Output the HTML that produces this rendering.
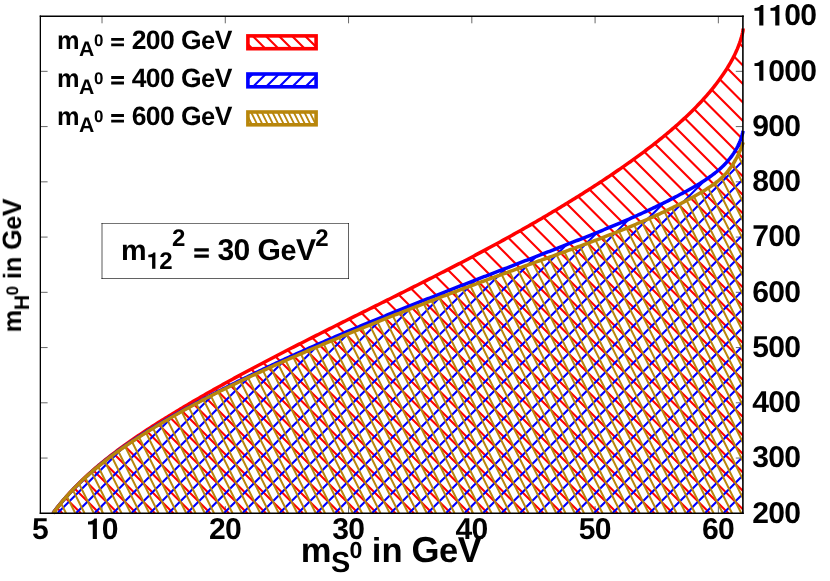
<!DOCTYPE html>
<html><head><meta charset="utf-8"><title>chart</title>
<style>html,body{margin:0;padding:0;background:#fff}svg{display:block}</style>
</head><body>
<svg width="830" height="581" viewBox="0 0 830 581">
<rect width="830" height="581" fill="#fff"/>
<defs>
<clipPath id="cr"><path d="M53.00,513.30 L54.20,511.51 L55.51,509.78 L56.84,508.07 L58.18,506.37 L59.54,504.69 L60.91,503.02 L62.29,501.36 L63.68,499.72 L65.09,498.09 L66.51,496.47 L67.94,494.86 L69.38,493.27 L70.84,491.69 L72.30,490.12 L73.78,488.56 L75.27,487.01 L76.77,485.48 L78.29,483.96 L79.81,482.45 L81.34,480.95 L82.89,479.46 L84.44,477.98 L86.00,476.51 L87.58,475.06 L89.16,473.61 L90.76,472.18 L92.36,470.75 L93.97,469.34 L95.59,467.93 L97.22,466.54 L98.86,465.15 L100.50,463.77 L102.16,462.41 L103.82,461.05 L105.49,459.70 L107.17,458.36 L108.85,457.02 L110.55,455.70 L112.25,454.39 L113.95,453.08 L115.67,451.78 L117.39,450.49 L119.11,449.20 L120.85,447.93 L122.59,446.66 L124.33,445.40 L126.08,444.14 L127.84,442.90 L129.60,441.65 L131.36,440.42 L133.13,439.19 L134.91,437.97 L136.69,436.76 L138.47,435.55 L140.26,434.34 L142.06,433.14 L143.85,431.95 L145.65,430.77 L147.46,429.58 L149.26,428.41 L151.07,427.23 L152.88,426.07 L154.70,424.91 L156.52,423.75 L158.34,422.59 L160.16,421.44 L161.98,420.30 L163.81,419.16 L165.64,418.02 L167.47,416.88 L169.30,415.75 L171.13,414.63 L172.97,413.51 L174.81,412.39 L176.65,411.27 L178.49,410.16 L180.33,409.05 L182.18,407.94 L184.02,406.84 L185.87,405.74 L187.72,404.65 L189.57,403.56 L191.42,402.47 L193.28,401.38 L195.14,400.30 L196.99,399.22 L198.85,398.14 L200.71,397.06 L202.58,395.99 L204.44,394.92 L206.31,393.86 L208.17,392.79 L210.04,391.73 L211.91,390.67 L213.78,389.62 L215.65,388.56 L217.53,387.51 L219.40,386.46 L221.28,385.42 L223.16,384.37 L225.04,383.33 L226.92,382.29 L228.80,381.25 L230.68,380.22 L232.56,379.19 L234.45,378.16 L236.34,377.13 L238.22,376.10 L240.11,375.08 L242.00,374.05 L243.89,373.03 L245.78,372.01 L247.68,371.00 L249.57,369.98 L251.47,368.97 L253.36,367.96 L255.26,366.95 L257.16,365.94 L259.06,364.94 L260.96,363.93 L262.86,362.93 L264.76,361.93 L266.66,360.93 L268.57,359.93 L270.47,358.94 L272.38,357.94 L274.29,356.95 L276.19,355.96 L278.10,354.97 L280.01,353.98 L281.92,352.99 L283.83,352.01 L285.74,351.02 L287.65,350.04 L289.57,349.06 L291.48,348.07 L293.39,347.09 L295.31,346.12 L297.22,345.14 L299.14,344.16 L301.06,343.19 L302.97,342.21 L304.89,341.24 L306.81,340.27 L308.73,339.30 L310.65,338.33 L312.57,337.36 L314.49,336.39 L316.41,335.42 L318.33,334.45 L320.25,333.49 L322.17,332.52 L324.10,331.56 L326.02,330.59 L327.94,329.63 L329.87,328.67 L331.79,327.70 L333.71,326.74 L335.64,325.78 L337.56,324.82 L339.49,323.86 L341.41,322.90 L343.34,321.94 L345.27,320.98 L347.19,320.02 L349.12,319.06 L351.04,318.11 L352.97,317.15 L354.90,316.19 L356.82,315.23 L358.75,314.27 L360.68,313.32 L362.61,312.36 L364.53,311.40 L366.46,310.45 L368.39,309.49 L370.32,308.53 L372.24,307.57 L374.17,306.62 L376.10,305.66 L378.02,304.70 L379.95,303.74 L381.88,302.78 L383.80,301.83 L385.73,300.87 L387.66,299.91 L389.58,298.95 L391.51,297.99 L393.44,297.03 L395.36,296.07 L397.29,295.11 L399.21,294.15 L401.14,293.18 L403.06,292.22 L404.99,291.26 L406.91,290.29 L408.83,289.33 L410.76,288.36 L412.68,287.40 L414.60,286.43 L416.53,285.46 L418.45,284.50 L420.37,283.53 L422.29,282.56 L424.21,281.59 L426.13,280.61 L428.05,279.64 L429.97,278.67 L431.89,277.69 L433.81,276.72 L435.72,275.74 L437.64,274.76 L439.56,273.78 L441.47,272.80 L443.39,271.82 L445.30,270.84 L447.21,269.85 L449.13,268.87 L451.04,267.88 L452.95,266.89 L454.86,265.90 L456.77,264.91 L458.68,263.92 L460.59,262.93 L462.50,261.93 L464.40,260.94 L466.31,259.94 L468.21,258.94 L470.12,257.94 L472.02,256.93 L473.92,255.93 L475.82,254.92 L477.72,253.91 L479.62,252.90 L481.52,251.89 L483.42,250.88 L485.32,249.86 L487.21,248.84 L489.11,247.82 L491.00,246.80 L492.89,245.78 L494.78,244.75 L496.67,243.72 L498.56,242.70 L500.45,241.66 L502.34,240.63 L504.22,239.60 L506.11,238.56 L507.99,237.52 L509.87,236.48 L511.75,235.43 L513.63,234.39 L515.51,233.34 L517.38,232.29 L519.26,231.23 L521.13,230.18 L523.01,229.12 L524.88,228.06 L526.75,227.00 L528.61,225.93 L530.48,224.87 L532.35,223.80 L534.21,222.72 L536.07,221.65 L537.93,220.57 L539.79,219.49 L541.65,218.41 L543.51,217.33 L545.36,216.24 L547.21,215.15 L549.06,214.06 L550.91,212.96 L552.76,211.86 L554.61,210.76 L556.45,209.66 L558.30,208.55 L560.14,207.44 L561.98,206.33 L563.81,205.21 L565.65,204.10 L567.48,202.98 L569.32,201.85 L571.15,200.73 L572.98,199.60 L574.80,198.46 L576.63,197.33 L578.45,196.19 L580.27,195.05 L582.09,193.90 L583.91,192.75 L585.72,191.60 L587.53,190.45 L589.35,189.29 L591.15,188.13 L592.96,186.97 L594.77,185.80 L596.57,184.63 L598.37,183.45 L600.17,182.28 L601.97,181.10 L603.76,179.91 L605.55,178.72 L607.34,177.53 L609.13,176.34 L610.91,175.14 L612.70,173.94 L614.48,172.73 L616.26,171.53 L618.03,170.31 L619.80,169.10 L621.57,167.87 L623.34,166.65 L625.10,165.42 L626.87,164.18 L628.62,162.94 L630.38,161.70 L632.13,160.45 L633.87,159.20 L635.62,157.94 L637.36,156.67 L639.09,155.40 L640.82,154.13 L642.55,152.85 L644.27,151.56 L645.99,150.27 L647.71,148.97 L649.42,147.66 L651.12,146.35 L652.82,145.04 L654.52,143.71 L656.21,142.38 L657.89,141.05 L659.57,139.70 L661.25,138.35 L662.92,136.99 L664.58,135.63 L666.24,134.26 L667.90,132.88 L669.54,131.49 L671.18,130.10 L672.82,128.70 L674.45,127.29 L676.07,125.87 L677.69,124.44 L679.30,123.01 L680.90,121.56 L682.49,120.11 L684.08,118.65 L685.66,117.18 L687.22,115.70 L688.78,114.22 L690.33,112.72 L691.87,111.21 L693.40,109.70 L694.92,108.17 L696.43,106.63 L697.92,105.09 L699.41,103.53 L700.88,101.96 L702.34,100.38 L703.79,98.79 L705.22,97.19 L706.64,95.58 L708.05,93.95 L709.44,92.32 L710.82,90.67 L712.18,89.01 L713.53,87.34 L714.86,85.65 L716.17,83.96 L717.47,82.25 L718.75,80.53 L720.02,78.79 L721.27,77.04 L722.50,75.28 L723.71,73.51 L724.90,71.72 L726.08,69.92 L727.23,68.10 L728.36,66.27 L729.46,64.42 L730.54,62.56 L731.59,60.69 L732.62,58.80 L733.61,56.89 L734.57,54.97 L735.49,53.04 L736.38,51.09 L737.24,49.12 L738.05,47.14 L738.82,45.14 L739.56,43.12 L740.25,41.09 L740.89,39.04 L741.49,36.97 L742.04,34.89 L742.54,32.78 L742.99,30.67 L743.10,28.50 L743.10,513.30 L53.00,513.30 Z"/></clipPath>
<clipPath id="cb"><path d="M53.00,513.30 L54.13,511.64 L55.37,510.04 L56.62,508.44 L57.88,506.86 L59.16,505.28 L60.44,503.72 L61.74,502.17 L63.05,500.64 L64.37,499.11 L65.70,497.60 L67.04,496.10 L68.39,494.60 L69.75,493.12 L71.12,491.66 L72.51,490.20 L73.90,488.75 L75.30,487.31 L76.71,485.89 L78.13,484.47 L79.56,483.07 L81.00,481.67 L82.45,480.29 L83.91,478.91 L85.38,477.55 L86.85,476.19 L88.34,474.84 L89.83,473.51 L91.33,472.18 L92.84,470.86 L94.36,469.56 L95.88,468.26 L97.42,466.97 L98.96,465.68 L100.51,464.41 L102.06,463.15 L103.63,461.89 L105.20,460.65 L106.78,459.41 L108.36,458.18 L109.95,456.95 L111.55,455.74 L113.16,454.53 L114.77,453.33 L116.38,452.14 L118.01,450.96 L119.64,449.78 L121.27,448.61 L122.91,447.45 L124.56,446.29 L126.21,445.14 L127.87,444.00 L129.53,442.87 L131.19,441.74 L132.87,440.61 L134.54,439.50 L136.22,438.39 L137.91,437.29 L139.60,436.19 L141.29,435.10 L142.99,434.01 L144.69,432.93 L146.40,431.85 L148.11,430.79 L149.82,429.72 L151.54,428.66 L153.26,427.61 L154.98,426.56 L156.71,425.52 L158.44,424.48 L160.17,423.44 L161.90,422.41 L163.64,421.38 L165.38,420.36 L167.12,419.35 L168.86,418.33 L170.61,417.32 L172.35,416.32 L174.10,415.31 L175.85,414.32 L177.60,413.32 L179.36,412.33 L181.11,411.34 L182.87,410.36 L184.63,409.38 L186.39,408.40 L188.15,407.43 L189.92,406.46 L191.68,405.49 L193.45,404.53 L195.22,403.57 L196.99,402.62 L198.76,401.66 L200.53,400.71 L202.31,399.77 L204.08,398.82 L205.86,397.88 L207.64,396.94 L209.42,396.01 L211.20,395.08 L212.99,394.15 L214.77,393.22 L216.56,392.30 L218.34,391.38 L220.13,390.46 L221.92,389.55 L223.71,388.63 L225.50,387.72 L227.30,386.82 L229.09,385.91 L230.89,385.01 L232.69,384.11 L234.48,383.21 L236.28,382.32 L238.08,381.42 L239.88,380.53 L241.69,379.65 L243.49,378.76 L245.30,377.88 L247.10,376.99 L248.91,376.12 L250.71,375.24 L252.52,374.36 L254.33,373.49 L256.14,372.62 L257.96,371.75 L259.77,370.88 L261.58,370.02 L263.40,369.16 L265.21,368.30 L267.03,367.44 L268.85,366.58 L270.66,365.73 L272.48,364.87 L274.30,364.02 L276.12,363.18 L277.95,362.33 L279.77,361.48 L281.59,360.64 L283.42,359.80 L285.24,358.96 L287.07,358.12 L288.90,357.29 L290.72,356.46 L292.55,355.62 L294.38,354.79 L296.21,353.97 L298.05,353.14 L299.88,352.32 L301.71,351.49 L303.54,350.67 L305.38,349.85 L307.21,349.03 L309.05,348.22 L310.89,347.40 L312.73,346.59 L314.56,345.78 L316.40,344.97 L318.24,344.16 L320.08,343.36 L321.93,342.55 L323.77,341.75 L325.61,340.95 L327.45,340.15 L329.30,339.35 L331.14,338.55 L332.99,337.75 L334.83,336.96 L336.68,336.17 L338.53,335.37 L340.38,334.58 L342.23,333.80 L344.08,333.01 L345.93,332.22 L347.78,331.44 L349.63,330.65 L351.48,329.87 L353.33,329.09 L355.19,328.31 L357.04,327.53 L358.89,326.76 L360.75,325.98 L362.60,325.21 L364.46,324.43 L366.32,323.66 L368.17,322.89 L370.03,322.12 L371.89,321.35 L373.75,320.58 L375.61,319.82 L377.47,319.05 L379.33,318.29 L381.19,317.53 L383.05,316.76 L384.91,316.00 L386.77,315.24 L388.63,314.48 L390.50,313.73 L392.36,312.97 L394.22,312.21 L396.09,311.46 L397.95,310.70 L399.82,309.95 L401.68,309.20 L403.55,308.45 L405.41,307.69 L407.28,306.94 L409.15,306.20 L411.02,305.45 L412.88,304.70 L414.75,303.95 L416.62,303.21 L418.49,302.46 L420.36,301.72 L422.23,300.97 L424.10,300.23 L425.97,299.49 L427.84,298.75 L429.71,298.01 L431.58,297.27 L433.45,296.53 L435.32,295.79 L437.19,295.05 L439.06,294.31 L440.93,293.58 L442.81,292.84 L444.68,292.10 L446.55,291.37 L448.42,290.63 L450.30,289.90 L452.17,289.16 L454.04,288.43 L455.92,287.70 L457.79,286.96 L459.67,286.23 L461.54,285.50 L463.41,284.77 L465.29,284.04 L467.16,283.31 L469.04,282.57 L470.91,281.84 L472.79,281.11 L474.66,280.39 L476.54,279.66 L478.41,278.93 L480.29,278.20 L482.16,277.47 L484.04,276.74 L485.91,276.01 L487.79,275.28 L489.67,274.56 L491.54,273.83 L493.42,273.10 L495.29,272.37 L497.17,271.65 L499.04,270.92 L500.92,270.19 L502.80,269.47 L504.67,268.74 L506.55,268.01 L508.42,267.28 L510.30,266.56 L512.17,265.83 L514.05,265.10 L515.92,264.38 L517.80,263.65 L519.67,262.92 L521.55,262.19 L523.42,261.47 L525.30,260.74 L527.17,260.01 L529.05,259.28 L530.92,258.56 L532.80,257.83 L534.67,257.10 L536.55,256.37 L538.42,255.64 L540.29,254.91 L542.17,254.18 L544.04,253.45 L545.91,252.72 L547.79,251.99 L549.66,251.26 L551.53,250.53 L553.41,249.80 L555.28,249.07 L557.15,248.34 L559.02,247.60 L560.89,246.87 L562.77,246.14 L564.64,245.40 L566.51,244.67 L568.38,243.93 L570.25,243.20 L572.12,242.46 L573.99,241.73 L575.86,240.99 L577.73,240.25 L579.59,239.51 L581.46,238.77 L583.33,238.03 L585.19,237.28 L587.06,236.54 L588.93,235.79 L590.79,235.04 L592.65,234.29 L594.52,233.54 L596.38,232.79 L598.24,232.03 L600.10,231.28 L601.96,230.51 L603.82,229.75 L605.68,228.99 L607.53,228.22 L609.39,227.45 L611.24,226.68 L613.09,225.90 L614.95,225.12 L616.80,224.34 L618.65,223.56 L620.49,222.77 L622.34,221.98 L624.19,221.18 L626.03,220.39 L627.87,219.58 L629.71,218.78 L631.55,217.97 L633.39,217.16 L635.23,216.34 L637.06,215.52 L638.89,214.69 L640.73,213.86 L642.56,213.03 L644.38,212.19 L646.21,211.35 L648.03,210.50 L649.86,209.65 L651.68,208.79 L653.49,207.93 L655.31,207.06 L657.12,206.19 L658.94,205.31 L660.75,204.43 L662.56,203.54 L664.36,202.64 L666.16,201.74 L667.97,200.84 L669.77,199.93 L671.56,199.01 L673.36,198.09 L675.15,197.16 L676.94,196.22 L678.73,195.28 L680.51,194.33 L682.29,193.38 L684.07,192.41 L685.85,191.44 L687.62,190.47 L689.39,189.49 L691.16,188.50 L692.92,187.50 L694.68,186.49 L696.43,185.47 L698.17,184.44 L699.90,183.39 L701.61,182.33 L703.32,181.26 L705.01,180.17 L706.68,179.06 L708.33,177.94 L709.97,176.79 L711.59,175.63 L713.18,174.44 L714.76,173.24 L716.31,172.00 L717.83,170.75 L719.33,169.46 L720.80,168.16 L722.24,166.82 L723.64,165.45 L725.02,164.06 L726.36,162.63 L727.67,161.18 L728.94,159.68 L730.18,158.16 L731.37,156.60 L732.52,155.01 L733.64,153.37 L734.71,151.70 L735.73,149.99 L736.71,148.24 L737.65,146.45 L738.53,144.62 L739.36,142.74 L740.15,140.82 L740.88,138.85 L741.55,136.84 L742.17,134.78 L742.74,132.67 L743.10,130.80 L743.10,513.30 L53.00,513.30 Z"/></clipPath>
<clipPath id="cg"><path d="M53.00,513.30 L54.19,511.75 L55.40,510.13 L56.62,508.53 L57.85,506.94 L59.10,505.36 L60.36,503.80 L61.63,502.25 L62.92,500.71 L64.22,499.19 L65.53,497.68 L66.85,496.18 L68.19,494.69 L69.53,493.22 L70.89,491.76 L72.26,490.30 L73.64,488.87 L75.03,487.44 L76.44,486.02 L77.85,484.62 L79.27,483.22 L80.71,481.84 L82.15,480.47 L83.60,479.10 L85.07,477.75 L86.54,476.41 L88.02,475.08 L89.51,473.76 L91.01,472.45 L92.52,471.15 L94.04,469.85 L95.57,468.57 L97.10,467.30 L98.64,466.03 L100.19,464.78 L101.75,463.53 L103.31,462.29 L104.89,461.06 L106.46,459.84 L108.05,458.63 L109.64,457.42 L111.24,456.23 L112.85,455.04 L114.46,453.86 L116.07,452.68 L117.70,451.51 L119.33,450.35 L120.96,449.20 L122.60,448.05 L124.24,446.91 L125.89,445.78 L127.54,444.65 L129.20,443.53 L130.86,442.42 L132.53,441.31 L134.19,440.21 L135.87,439.11 L137.54,438.02 L139.22,436.93 L140.90,435.85 L142.59,434.77 L144.28,433.70 L145.97,432.63 L147.66,431.57 L149.36,430.51 L151.05,429.46 L152.76,428.41 L154.46,427.37 L156.17,426.33 L157.87,425.29 L159.59,424.27 L161.30,423.24 L163.02,422.22 L164.74,421.20 L166.46,420.19 L168.18,419.18 L169.91,418.18 L171.63,417.18 L173.37,416.19 L175.10,415.20 L176.83,414.21 L178.57,413.23 L180.31,412.25 L182.05,411.28 L183.80,410.31 L185.54,409.34 L187.29,408.38 L189.04,407.42 L190.80,406.46 L192.55,405.51 L194.31,404.57 L196.07,403.62 L197.83,402.68 L199.59,401.75 L201.36,400.82 L203.12,399.89 L204.89,398.96 L206.66,398.04 L208.43,397.12 L210.21,396.21 L211.98,395.29 L213.76,394.39 L215.54,393.48 L217.32,392.58 L219.11,391.68 L220.89,390.78 L222.68,389.89 L224.46,389.00 L226.25,388.12 L228.04,387.23 L229.84,386.35 L231.63,385.48 L233.43,384.60 L235.22,383.73 L237.02,382.86 L238.82,381.99 L240.62,381.13 L242.42,380.27 L244.23,379.41 L246.03,378.56 L247.84,377.70 L249.65,376.85 L251.46,376.01 L253.27,375.16 L255.08,374.32 L256.89,373.48 L258.70,372.64 L260.52,371.80 L262.33,370.97 L264.15,370.14 L265.97,369.31 L267.79,368.48 L269.61,367.65 L271.43,366.83 L273.25,366.01 L275.07,365.19 L276.90,364.37 L278.72,363.56 L280.55,362.74 L282.37,361.93 L284.20,361.12 L286.03,360.31 L287.86,359.51 L289.69,358.70 L291.52,357.90 L293.35,357.10 L295.18,356.30 L297.01,355.50 L298.84,354.70 L300.67,353.90 L302.51,353.11 L304.34,352.32 L306.18,351.52 L308.01,350.73 L309.85,349.94 L311.68,349.16 L313.52,348.37 L315.36,347.58 L317.19,346.80 L319.03,346.02 L320.87,345.24 L322.71,344.46 L324.55,343.68 L326.39,342.90 L328.23,342.13 L330.07,341.35 L331.91,340.58 L333.76,339.80 L335.60,339.03 L337.44,338.26 L339.29,337.50 L341.13,336.73 L342.98,335.96 L344.82,335.20 L346.67,334.43 L348.51,333.67 L350.36,332.91 L352.21,332.15 L354.05,331.39 L355.90,330.63 L357.75,329.88 L359.60,329.12 L361.45,328.37 L363.30,327.61 L365.15,326.86 L367.00,326.11 L368.85,325.36 L370.70,324.61 L372.56,323.87 L374.41,323.12 L376.26,322.38 L378.11,321.63 L379.97,320.89 L381.82,320.15 L383.68,319.41 L385.53,318.67 L387.39,317.93 L389.24,317.19 L391.10,316.45 L392.96,315.72 L394.81,314.98 L396.67,314.25 L398.53,313.52 L400.39,312.79 L402.25,312.06 L404.11,311.33 L405.97,310.60 L407.83,309.87 L409.69,309.14 L411.55,308.42 L413.41,307.69 L415.27,306.97 L417.13,306.25 L418.99,305.53 L420.86,304.81 L422.72,304.09 L424.58,303.37 L426.45,302.65 L428.31,301.93 L430.17,301.22 L432.04,300.50 L433.90,299.79 L435.77,299.08 L437.64,298.36 L439.50,297.65 L441.37,296.94 L443.23,296.23 L445.10,295.52 L446.97,294.81 L448.84,294.11 L450.70,293.40 L452.57,292.70 L454.44,291.99 L456.31,291.29 L458.18,290.58 L460.05,289.88 L461.92,289.18 L463.79,288.48 L465.66,287.78 L467.53,287.08 L469.40,286.38 L471.27,285.68 L473.15,284.99 L475.02,284.29 L476.89,283.60 L478.76,282.90 L480.64,282.21 L482.51,281.51 L484.38,280.82 L486.26,280.13 L488.13,279.44 L490.00,278.75 L491.88,278.06 L493.75,277.37 L495.63,276.68 L497.50,275.99 L499.38,275.31 L501.25,274.62 L503.13,273.94 L505.01,273.25 L506.88,272.57 L508.76,271.88 L510.64,271.20 L512.51,270.52 L514.39,269.84 L516.27,269.15 L518.15,268.47 L520.03,267.79 L521.90,267.11 L523.78,266.44 L525.66,265.76 L527.54,265.08 L529.42,264.40 L531.30,263.73 L533.18,263.05 L535.06,262.37 L536.94,261.70 L538.82,261.02 L540.70,260.35 L542.58,259.67 L544.46,259.00 L546.34,258.32 L548.22,257.65 L550.10,256.97 L551.98,256.30 L553.86,255.62 L555.73,254.94 L557.61,254.27 L559.49,253.59 L561.37,252.91 L563.25,252.23 L565.13,251.55 L567.00,250.87 L568.88,250.19 L570.76,249.51 L572.63,248.82 L574.51,248.14 L576.38,247.45 L578.26,246.76 L580.13,246.07 L582.01,245.38 L583.88,244.68 L585.75,243.99 L587.62,243.29 L589.49,242.59 L591.36,241.89 L593.23,241.19 L595.10,240.48 L596.97,239.78 L598.83,239.07 L600.70,238.35 L602.56,237.64 L604.43,236.92 L606.29,236.20 L608.15,235.48 L610.01,234.75 L611.87,234.03 L613.73,233.29 L615.58,232.56 L617.44,231.82 L619.29,231.08 L621.14,230.34 L623.00,229.59 L624.85,228.84 L626.70,228.08 L628.54,227.33 L630.39,226.56 L632.23,225.80 L634.08,225.03 L635.92,224.26 L637.76,223.48 L639.60,222.70 L641.43,221.91 L643.27,221.12 L645.10,220.33 L646.93,219.53 L648.76,218.72 L650.59,217.92 L652.42,217.10 L654.24,216.28 L656.06,215.46 L657.88,214.63 L659.70,213.80 L661.51,212.96 L663.33,212.12 L665.13,211.27 L666.94,210.41 L668.74,209.55 L670.54,208.68 L672.34,207.80 L674.13,206.92 L675.92,206.03 L677.71,205.13 L679.49,204.22 L681.26,203.31 L683.04,202.39 L684.80,201.46 L686.57,200.53 L688.33,199.58 L690.08,198.63 L691.83,197.67 L693.57,196.70 L695.31,195.72 L697.04,194.73 L698.77,193.73 L700.49,192.73 L702.21,191.71 L703.92,190.68 L705.62,189.64 L707.31,188.59 L708.98,187.51 L710.64,186.41 L712.28,185.29 L713.90,184.14 L715.50,182.96 L717.06,181.75 L718.60,180.50 L720.10,179.20 L721.58,177.87 L723.01,176.49 L724.40,175.06 L725.76,173.59 L727.07,172.08 L728.35,170.52 L729.58,168.93 L730.78,167.31 L731.93,165.65 L733.05,163.96 L734.12,162.25 L735.15,160.51 L736.14,158.75 L737.09,156.98 L738.00,155.18 L738.87,153.38 L739.69,151.56 L740.47,149.73 L741.22,147.90 L741.91,146.06 L742.57,144.22 L743.10,142.30 L743.10,513.30 L53.00,513.30 Z"/></clipPath>
<clipPath id="k0"><rect x="247.90" y="35.90" width="68.20" height="12.80"/></clipPath>
<clipPath id="k1"><rect x="247.90" y="74.00" width="68.20" height="12.80"/></clipPath>
<clipPath id="k2"><rect x="247.90" y="112.00" width="68.20" height="12.80"/></clipPath>
</defs>
<path d="M102.03,513.30v-7.20M102.03,16.10v7.20M225.29,513.30v-7.20M225.29,16.10v7.20M348.56,513.30v-7.20M348.56,16.10v7.20M471.82,513.30v-7.20M471.82,16.10v7.20M595.08,513.30v-7.20M595.08,16.10v7.20M718.35,513.30v-7.20M718.35,16.10v7.20M40.40,458.06h7.20M743.00,458.06h-7.20M40.40,402.81h7.20M743.00,402.81h-7.20M40.40,347.57h7.20M743.00,347.57h-7.20M40.40,292.32h7.20M743.00,292.32h-7.20M40.40,237.08h7.20M743.00,237.08h-7.20M40.40,181.83h7.20M743.00,181.83h-7.20M40.40,126.59h7.20M743.00,126.59h-7.20M40.40,71.34h7.20M743.00,71.34h-7.20" stroke="#000" stroke-width="0.6" fill="none"/>
<g fill="none" stroke-linecap="butt">
<path clip-path="url(#cr)" stroke="#ff0000" stroke-width="2.10" d="M-490.30,16.10L6.90,513.30 M-471.80,16.10L25.40,513.30 M-453.30,16.10L43.90,513.30 M-434.80,16.10L62.40,513.30 M-416.30,16.10L80.90,513.30 M-397.80,16.10L99.40,513.30 M-379.30,16.10L117.90,513.30 M-360.80,16.10L136.40,513.30 M-342.30,16.10L154.90,513.30 M-323.80,16.10L173.40,513.30 M-305.30,16.10L191.90,513.30 M-286.80,16.10L210.40,513.30 M-268.30,16.10L228.90,513.30 M-249.80,16.10L247.40,513.30 M-231.30,16.10L265.90,513.30 M-212.80,16.10L284.40,513.30 M-194.30,16.10L302.90,513.30 M-175.80,16.10L321.40,513.30 M-157.30,16.10L339.90,513.30 M-138.80,16.10L358.40,513.30 M-120.30,16.10L376.90,513.30 M-101.80,16.10L395.40,513.30 M-83.30,16.10L413.90,513.30 M-64.80,16.10L432.40,513.30 M-46.30,16.10L450.90,513.30 M-27.80,16.10L469.40,513.30 M-9.30,16.10L487.90,513.30 M9.20,16.10L506.40,513.30 M27.70,16.10L524.90,513.30 M46.20,16.10L543.40,513.30 M64.70,16.10L561.90,513.30 M83.20,16.10L580.40,513.30 M101.70,16.10L598.90,513.30 M120.20,16.10L617.40,513.30 M138.70,16.10L635.90,513.30 M157.20,16.10L654.40,513.30 M175.70,16.10L672.90,513.30 M194.20,16.10L691.40,513.30 M212.70,16.10L709.90,513.30 M231.20,16.10L728.40,513.30 M249.70,16.10L746.90,513.30 M268.20,16.10L765.40,513.30 M286.70,16.10L783.90,513.30 M305.20,16.10L802.40,513.30 M323.70,16.10L820.90,513.30 M342.20,16.10L839.40,513.30 M360.70,16.10L857.90,513.30 M379.20,16.10L876.40,513.30 M397.70,16.10L894.90,513.30 M416.20,16.10L913.40,513.30 M434.70,16.10L931.90,513.30 M453.20,16.10L950.40,513.30 M471.70,16.10L968.90,513.30 M490.20,16.10L987.40,513.30 M508.70,16.10L1005.90,513.30 M527.20,16.10L1024.40,513.30 M545.70,16.10L1042.90,513.30 M564.20,16.10L1061.40,513.30 M582.70,16.10L1079.90,513.30 M601.20,16.10L1098.40,513.30 M619.70,16.10L1116.90,513.30 M638.20,16.10L1135.40,513.30 M656.70,16.10L1153.90,513.30 M675.20,16.10L1172.40,513.30 M693.70,16.10L1190.90,513.30 M712.20,16.10L1209.40,513.30 M730.70,16.10L1227.90,513.30 M749.20,16.10L1246.40,513.30 M767.70,16.10L1264.90,513.30"/>
<path stroke="#ff0000" stroke-width="3.50" stroke-linejoin="round" d="M53.00,513.30 L54.20,511.51 L55.51,509.78 L56.84,508.07 L58.18,506.37 L59.54,504.69 L60.91,503.02 L62.29,501.36 L63.68,499.72 L65.09,498.09 L66.51,496.47 L67.94,494.86 L69.38,493.27 L70.84,491.69 L72.30,490.12 L73.78,488.56 L75.27,487.01 L76.77,485.48 L78.29,483.96 L79.81,482.45 L81.34,480.95 L82.89,479.46 L84.44,477.98 L86.00,476.51 L87.58,475.06 L89.16,473.61 L90.76,472.18 L92.36,470.75 L93.97,469.34 L95.59,467.93 L97.22,466.54 L98.86,465.15 L100.50,463.77 L102.16,462.41 L103.82,461.05 L105.49,459.70 L107.17,458.36 L108.85,457.02 L110.55,455.70 L112.25,454.39 L113.95,453.08 L115.67,451.78 L117.39,450.49 L119.11,449.20 L120.85,447.93 L122.59,446.66 L124.33,445.40 L126.08,444.14 L127.84,442.90 L129.60,441.65 L131.36,440.42 L133.13,439.19 L134.91,437.97 L136.69,436.76 L138.47,435.55 L140.26,434.34 L142.06,433.14 L143.85,431.95 L145.65,430.77 L147.46,429.58 L149.26,428.41 L151.07,427.23 L152.88,426.07 L154.70,424.91 L156.52,423.75 L158.34,422.59 L160.16,421.44 L161.98,420.30 L163.81,419.16 L165.64,418.02 L167.47,416.88 L169.30,415.75 L171.13,414.63 L172.97,413.51 L174.81,412.39 L176.65,411.27 L178.49,410.16 L180.33,409.05 L182.18,407.94 L184.02,406.84 L185.87,405.74 L187.72,404.65 L189.57,403.56 L191.42,402.47 L193.28,401.38 L195.14,400.30 L196.99,399.22 L198.85,398.14 L200.71,397.06 L202.58,395.99 L204.44,394.92 L206.31,393.86 L208.17,392.79 L210.04,391.73 L211.91,390.67 L213.78,389.62 L215.65,388.56 L217.53,387.51 L219.40,386.46 L221.28,385.42 L223.16,384.37 L225.04,383.33 L226.92,382.29 L228.80,381.25 L230.68,380.22 L232.56,379.19 L234.45,378.16 L236.34,377.13 L238.22,376.10 L240.11,375.08 L242.00,374.05 L243.89,373.03 L245.78,372.01 L247.68,371.00 L249.57,369.98 L251.47,368.97 L253.36,367.96 L255.26,366.95 L257.16,365.94 L259.06,364.94 L260.96,363.93 L262.86,362.93 L264.76,361.93 L266.66,360.93 L268.57,359.93 L270.47,358.94 L272.38,357.94 L274.29,356.95 L276.19,355.96 L278.10,354.97 L280.01,353.98 L281.92,352.99 L283.83,352.01 L285.74,351.02 L287.65,350.04 L289.57,349.06 L291.48,348.07 L293.39,347.09 L295.31,346.12 L297.22,345.14 L299.14,344.16 L301.06,343.19 L302.97,342.21 L304.89,341.24 L306.81,340.27 L308.73,339.30 L310.65,338.33 L312.57,337.36 L314.49,336.39 L316.41,335.42 L318.33,334.45 L320.25,333.49 L322.17,332.52 L324.10,331.56 L326.02,330.59 L327.94,329.63 L329.87,328.67 L331.79,327.70 L333.71,326.74 L335.64,325.78 L337.56,324.82 L339.49,323.86 L341.41,322.90 L343.34,321.94 L345.27,320.98 L347.19,320.02 L349.12,319.06 L351.04,318.11 L352.97,317.15 L354.90,316.19 L356.82,315.23 L358.75,314.27 L360.68,313.32 L362.61,312.36 L364.53,311.40 L366.46,310.45 L368.39,309.49 L370.32,308.53 L372.24,307.57 L374.17,306.62 L376.10,305.66 L378.02,304.70 L379.95,303.74 L381.88,302.78 L383.80,301.83 L385.73,300.87 L387.66,299.91 L389.58,298.95 L391.51,297.99 L393.44,297.03 L395.36,296.07 L397.29,295.11 L399.21,294.15 L401.14,293.18 L403.06,292.22 L404.99,291.26 L406.91,290.29 L408.83,289.33 L410.76,288.36 L412.68,287.40 L414.60,286.43 L416.53,285.46 L418.45,284.50 L420.37,283.53 L422.29,282.56 L424.21,281.59 L426.13,280.61 L428.05,279.64 L429.97,278.67 L431.89,277.69 L433.81,276.72 L435.72,275.74 L437.64,274.76 L439.56,273.78 L441.47,272.80 L443.39,271.82 L445.30,270.84 L447.21,269.85 L449.13,268.87 L451.04,267.88 L452.95,266.89 L454.86,265.90 L456.77,264.91 L458.68,263.92 L460.59,262.93 L462.50,261.93 L464.40,260.94 L466.31,259.94 L468.21,258.94 L470.12,257.94 L472.02,256.93 L473.92,255.93 L475.82,254.92 L477.72,253.91 L479.62,252.90 L481.52,251.89 L483.42,250.88 L485.32,249.86 L487.21,248.84 L489.11,247.82 L491.00,246.80 L492.89,245.78 L494.78,244.75 L496.67,243.72 L498.56,242.70 L500.45,241.66 L502.34,240.63 L504.22,239.60 L506.11,238.56 L507.99,237.52 L509.87,236.48 L511.75,235.43 L513.63,234.39 L515.51,233.34 L517.38,232.29 L519.26,231.23 L521.13,230.18 L523.01,229.12 L524.88,228.06 L526.75,227.00 L528.61,225.93 L530.48,224.87 L532.35,223.80 L534.21,222.72 L536.07,221.65 L537.93,220.57 L539.79,219.49 L541.65,218.41 L543.51,217.33 L545.36,216.24 L547.21,215.15 L549.06,214.06 L550.91,212.96 L552.76,211.86 L554.61,210.76 L556.45,209.66 L558.30,208.55 L560.14,207.44 L561.98,206.33 L563.81,205.21 L565.65,204.10 L567.48,202.98 L569.32,201.85 L571.15,200.73 L572.98,199.60 L574.80,198.46 L576.63,197.33 L578.45,196.19 L580.27,195.05 L582.09,193.90 L583.91,192.75 L585.72,191.60 L587.53,190.45 L589.35,189.29 L591.15,188.13 L592.96,186.97 L594.77,185.80 L596.57,184.63 L598.37,183.45 L600.17,182.28 L601.97,181.10 L603.76,179.91 L605.55,178.72 L607.34,177.53 L609.13,176.34 L610.91,175.14 L612.70,173.94 L614.48,172.73 L616.26,171.53 L618.03,170.31 L619.80,169.10 L621.57,167.87 L623.34,166.65 L625.10,165.42 L626.87,164.18 L628.62,162.94 L630.38,161.70 L632.13,160.45 L633.87,159.20 L635.62,157.94 L637.36,156.67 L639.09,155.40 L640.82,154.13 L642.55,152.85 L644.27,151.56 L645.99,150.27 L647.71,148.97 L649.42,147.66 L651.12,146.35 L652.82,145.04 L654.52,143.71 L656.21,142.38 L657.89,141.05 L659.57,139.70 L661.25,138.35 L662.92,136.99 L664.58,135.63 L666.24,134.26 L667.90,132.88 L669.54,131.49 L671.18,130.10 L672.82,128.70 L674.45,127.29 L676.07,125.87 L677.69,124.44 L679.30,123.01 L680.90,121.56 L682.49,120.11 L684.08,118.65 L685.66,117.18 L687.22,115.70 L688.78,114.22 L690.33,112.72 L691.87,111.21 L693.40,109.70 L694.92,108.17 L696.43,106.63 L697.92,105.09 L699.41,103.53 L700.88,101.96 L702.34,100.38 L703.79,98.79 L705.22,97.19 L706.64,95.58 L708.05,93.95 L709.44,92.32 L710.82,90.67 L712.18,89.01 L713.53,87.34 L714.86,85.65 L716.17,83.96 L717.47,82.25 L718.75,80.53 L720.02,78.79 L721.27,77.04 L722.50,75.28 L723.71,73.51 L724.90,71.72 L726.08,69.92 L727.23,68.10 L728.36,66.27 L729.46,64.42 L730.54,62.56 L731.59,60.69 L732.62,58.80 L733.61,56.89 L734.57,54.97 L735.49,53.04 L736.38,51.09 L737.24,49.12 L738.05,47.14 L738.82,45.14 L739.56,43.12 L740.25,41.09 L740.89,39.04 L741.49,36.97 L742.04,34.89 L742.54,32.78 L742.99,30.67 L743.10,28.50"/>
<path clip-path="url(#cb)" stroke="#0000ff" stroke-width="2.10" d="M18.10,16.10L-479.10,513.30 M36.60,16.10L-460.60,513.30 M55.10,16.10L-442.10,513.30 M73.60,16.10L-423.60,513.30 M92.10,16.10L-405.10,513.30 M110.60,16.10L-386.60,513.30 M129.10,16.10L-368.10,513.30 M147.60,16.10L-349.60,513.30 M166.10,16.10L-331.10,513.30 M184.60,16.10L-312.60,513.30 M203.10,16.10L-294.10,513.30 M221.60,16.10L-275.60,513.30 M240.10,16.10L-257.10,513.30 M258.60,16.10L-238.60,513.30 M277.10,16.10L-220.10,513.30 M295.60,16.10L-201.60,513.30 M314.10,16.10L-183.10,513.30 M332.60,16.10L-164.60,513.30 M351.10,16.10L-146.10,513.30 M369.60,16.10L-127.60,513.30 M388.10,16.10L-109.10,513.30 M406.60,16.10L-90.60,513.30 M425.10,16.10L-72.10,513.30 M443.60,16.10L-53.60,513.30 M462.10,16.10L-35.10,513.30 M480.60,16.10L-16.60,513.30 M499.10,16.10L1.90,513.30 M517.60,16.10L20.40,513.30 M536.10,16.10L38.90,513.30 M554.60,16.10L57.40,513.30 M573.10,16.10L75.90,513.30 M591.60,16.10L94.40,513.30 M610.10,16.10L112.90,513.30 M628.60,16.10L131.40,513.30 M647.10,16.10L149.90,513.30 M665.60,16.10L168.40,513.30 M684.10,16.10L186.90,513.30 M702.60,16.10L205.40,513.30 M721.10,16.10L223.90,513.30 M739.60,16.10L242.40,513.30 M758.10,16.10L260.90,513.30 M776.60,16.10L279.40,513.30 M795.10,16.10L297.90,513.30 M813.60,16.10L316.40,513.30 M832.10,16.10L334.90,513.30 M850.60,16.10L353.40,513.30 M869.10,16.10L371.90,513.30 M887.60,16.10L390.40,513.30 M906.10,16.10L408.90,513.30 M924.60,16.10L427.40,513.30 M943.10,16.10L445.90,513.30 M961.60,16.10L464.40,513.30 M980.10,16.10L482.90,513.30 M998.60,16.10L501.40,513.30 M1017.10,16.10L519.90,513.30 M1035.60,16.10L538.40,513.30 M1054.10,16.10L556.90,513.30 M1072.60,16.10L575.40,513.30 M1091.10,16.10L593.90,513.30 M1109.60,16.10L612.40,513.30 M1128.10,16.10L630.90,513.30 M1146.60,16.10L649.40,513.30 M1165.10,16.10L667.90,513.30 M1183.60,16.10L686.40,513.30 M1202.10,16.10L704.90,513.30 M1220.60,16.10L723.40,513.30 M1239.10,16.10L741.90,513.30 M1257.60,16.10L760.40,513.30 M1276.10,16.10L778.90,513.30"/>
<path stroke="#0000ff" stroke-width="3.50" stroke-linejoin="round" d="M53.00,513.30 L54.13,511.64 L55.37,510.04 L56.62,508.44 L57.88,506.86 L59.16,505.28 L60.44,503.72 L61.74,502.17 L63.05,500.64 L64.37,499.11 L65.70,497.60 L67.04,496.10 L68.39,494.60 L69.75,493.12 L71.12,491.66 L72.51,490.20 L73.90,488.75 L75.30,487.31 L76.71,485.89 L78.13,484.47 L79.56,483.07 L81.00,481.67 L82.45,480.29 L83.91,478.91 L85.38,477.55 L86.85,476.19 L88.34,474.84 L89.83,473.51 L91.33,472.18 L92.84,470.86 L94.36,469.56 L95.88,468.26 L97.42,466.97 L98.96,465.68 L100.51,464.41 L102.06,463.15 L103.63,461.89 L105.20,460.65 L106.78,459.41 L108.36,458.18 L109.95,456.95 L111.55,455.74 L113.16,454.53 L114.77,453.33 L116.38,452.14 L118.01,450.96 L119.64,449.78 L121.27,448.61 L122.91,447.45 L124.56,446.29 L126.21,445.14 L127.87,444.00 L129.53,442.87 L131.19,441.74 L132.87,440.61 L134.54,439.50 L136.22,438.39 L137.91,437.29 L139.60,436.19 L141.29,435.10 L142.99,434.01 L144.69,432.93 L146.40,431.85 L148.11,430.79 L149.82,429.72 L151.54,428.66 L153.26,427.61 L154.98,426.56 L156.71,425.52 L158.44,424.48 L160.17,423.44 L161.90,422.41 L163.64,421.38 L165.38,420.36 L167.12,419.35 L168.86,418.33 L170.61,417.32 L172.35,416.32 L174.10,415.31 L175.85,414.32 L177.60,413.32 L179.36,412.33 L181.11,411.34 L182.87,410.36 L184.63,409.38 L186.39,408.40 L188.15,407.43 L189.92,406.46 L191.68,405.49 L193.45,404.53 L195.22,403.57 L196.99,402.62 L198.76,401.66 L200.53,400.71 L202.31,399.77 L204.08,398.82 L205.86,397.88 L207.64,396.94 L209.42,396.01 L211.20,395.08 L212.99,394.15 L214.77,393.22 L216.56,392.30 L218.34,391.38 L220.13,390.46 L221.92,389.55 L223.71,388.63 L225.50,387.72 L227.30,386.82 L229.09,385.91 L230.89,385.01 L232.69,384.11 L234.48,383.21 L236.28,382.32 L238.08,381.42 L239.88,380.53 L241.69,379.65 L243.49,378.76 L245.30,377.88 L247.10,376.99 L248.91,376.12 L250.71,375.24 L252.52,374.36 L254.33,373.49 L256.14,372.62 L257.96,371.75 L259.77,370.88 L261.58,370.02 L263.40,369.16 L265.21,368.30 L267.03,367.44 L268.85,366.58 L270.66,365.73 L272.48,364.87 L274.30,364.02 L276.12,363.18 L277.95,362.33 L279.77,361.48 L281.59,360.64 L283.42,359.80 L285.24,358.96 L287.07,358.12 L288.90,357.29 L290.72,356.46 L292.55,355.62 L294.38,354.79 L296.21,353.97 L298.05,353.14 L299.88,352.32 L301.71,351.49 L303.54,350.67 L305.38,349.85 L307.21,349.03 L309.05,348.22 L310.89,347.40 L312.73,346.59 L314.56,345.78 L316.40,344.97 L318.24,344.16 L320.08,343.36 L321.93,342.55 L323.77,341.75 L325.61,340.95 L327.45,340.15 L329.30,339.35 L331.14,338.55 L332.99,337.75 L334.83,336.96 L336.68,336.17 L338.53,335.37 L340.38,334.58 L342.23,333.80 L344.08,333.01 L345.93,332.22 L347.78,331.44 L349.63,330.65 L351.48,329.87 L353.33,329.09 L355.19,328.31 L357.04,327.53 L358.89,326.76 L360.75,325.98 L362.60,325.21 L364.46,324.43 L366.32,323.66 L368.17,322.89 L370.03,322.12 L371.89,321.35 L373.75,320.58 L375.61,319.82 L377.47,319.05 L379.33,318.29 L381.19,317.53 L383.05,316.76 L384.91,316.00 L386.77,315.24 L388.63,314.48 L390.50,313.73 L392.36,312.97 L394.22,312.21 L396.09,311.46 L397.95,310.70 L399.82,309.95 L401.68,309.20 L403.55,308.45 L405.41,307.69 L407.28,306.94 L409.15,306.20 L411.02,305.45 L412.88,304.70 L414.75,303.95 L416.62,303.21 L418.49,302.46 L420.36,301.72 L422.23,300.97 L424.10,300.23 L425.97,299.49 L427.84,298.75 L429.71,298.01 L431.58,297.27 L433.45,296.53 L435.32,295.79 L437.19,295.05 L439.06,294.31 L440.93,293.58 L442.81,292.84 L444.68,292.10 L446.55,291.37 L448.42,290.63 L450.30,289.90 L452.17,289.16 L454.04,288.43 L455.92,287.70 L457.79,286.96 L459.67,286.23 L461.54,285.50 L463.41,284.77 L465.29,284.04 L467.16,283.31 L469.04,282.57 L470.91,281.84 L472.79,281.11 L474.66,280.39 L476.54,279.66 L478.41,278.93 L480.29,278.20 L482.16,277.47 L484.04,276.74 L485.91,276.01 L487.79,275.28 L489.67,274.56 L491.54,273.83 L493.42,273.10 L495.29,272.37 L497.17,271.65 L499.04,270.92 L500.92,270.19 L502.80,269.47 L504.67,268.74 L506.55,268.01 L508.42,267.28 L510.30,266.56 L512.17,265.83 L514.05,265.10 L515.92,264.38 L517.80,263.65 L519.67,262.92 L521.55,262.19 L523.42,261.47 L525.30,260.74 L527.17,260.01 L529.05,259.28 L530.92,258.56 L532.80,257.83 L534.67,257.10 L536.55,256.37 L538.42,255.64 L540.29,254.91 L542.17,254.18 L544.04,253.45 L545.91,252.72 L547.79,251.99 L549.66,251.26 L551.53,250.53 L553.41,249.80 L555.28,249.07 L557.15,248.34 L559.02,247.60 L560.89,246.87 L562.77,246.14 L564.64,245.40 L566.51,244.67 L568.38,243.93 L570.25,243.20 L572.12,242.46 L573.99,241.73 L575.86,240.99 L577.73,240.25 L579.59,239.51 L581.46,238.77 L583.33,238.03 L585.19,237.28 L587.06,236.54 L588.93,235.79 L590.79,235.04 L592.65,234.29 L594.52,233.54 L596.38,232.79 L598.24,232.03 L600.10,231.28 L601.96,230.51 L603.82,229.75 L605.68,228.99 L607.53,228.22 L609.39,227.45 L611.24,226.68 L613.09,225.90 L614.95,225.12 L616.80,224.34 L618.65,223.56 L620.49,222.77 L622.34,221.98 L624.19,221.18 L626.03,220.39 L627.87,219.58 L629.71,218.78 L631.55,217.97 L633.39,217.16 L635.23,216.34 L637.06,215.52 L638.89,214.69 L640.73,213.86 L642.56,213.03 L644.38,212.19 L646.21,211.35 L648.03,210.50 L649.86,209.65 L651.68,208.79 L653.49,207.93 L655.31,207.06 L657.12,206.19 L658.94,205.31 L660.75,204.43 L662.56,203.54 L664.36,202.64 L666.16,201.74 L667.97,200.84 L669.77,199.93 L671.56,199.01 L673.36,198.09 L675.15,197.16 L676.94,196.22 L678.73,195.28 L680.51,194.33 L682.29,193.38 L684.07,192.41 L685.85,191.44 L687.62,190.47 L689.39,189.49 L691.16,188.50 L692.92,187.50 L694.68,186.49 L696.43,185.47 L698.17,184.44 L699.90,183.39 L701.61,182.33 L703.32,181.26 L705.01,180.17 L706.68,179.06 L708.33,177.94 L709.97,176.79 L711.59,175.63 L713.18,174.44 L714.76,173.24 L716.31,172.00 L717.83,170.75 L719.33,169.46 L720.80,168.16 L722.24,166.82 L723.64,165.45 L725.02,164.06 L726.36,162.63 L727.67,161.18 L728.94,159.68 L730.18,158.16 L731.37,156.60 L732.52,155.01 L733.64,153.37 L734.71,151.70 L735.73,149.99 L736.71,148.24 L737.65,146.45 L738.53,144.62 L739.36,142.74 L740.15,140.82 L740.88,138.85 L741.55,136.84 L742.17,134.78 L742.74,132.67 L743.10,130.80"/>
<path clip-path="url(#cg)" stroke="#b8860b" stroke-width="2.00" d="M-219.55,16.10L29.05,513.30 M-210.30,16.10L38.30,513.30 M-201.05,16.10L47.55,513.30 M-191.80,16.10L56.80,513.30 M-182.55,16.10L66.05,513.30 M-173.30,16.10L75.30,513.30 M-164.05,16.10L84.55,513.30 M-154.80,16.10L93.80,513.30 M-145.55,16.10L103.05,513.30 M-136.30,16.10L112.30,513.30 M-127.05,16.10L121.55,513.30 M-117.80,16.10L130.80,513.30 M-108.55,16.10L140.05,513.30 M-99.30,16.10L149.30,513.30 M-90.05,16.10L158.55,513.30 M-80.80,16.10L167.80,513.30 M-71.55,16.10L177.05,513.30 M-62.30,16.10L186.30,513.30 M-53.05,16.10L195.55,513.30 M-43.80,16.10L204.80,513.30 M-34.55,16.10L214.05,513.30 M-25.30,16.10L223.30,513.30 M-16.05,16.10L232.55,513.30 M-6.80,16.10L241.80,513.30 M2.45,16.10L251.05,513.30 M11.70,16.10L260.30,513.30 M20.95,16.10L269.55,513.30 M30.20,16.10L278.80,513.30 M39.45,16.10L288.05,513.30 M48.70,16.10L297.30,513.30 M57.95,16.10L306.55,513.30 M67.20,16.10L315.80,513.30 M76.45,16.10L325.05,513.30 M85.70,16.10L334.30,513.30 M94.95,16.10L343.55,513.30 M104.20,16.10L352.80,513.30 M113.45,16.10L362.05,513.30 M122.70,16.10L371.30,513.30 M131.95,16.10L380.55,513.30 M141.20,16.10L389.80,513.30 M150.45,16.10L399.05,513.30 M159.70,16.10L408.30,513.30 M168.95,16.10L417.55,513.30 M178.20,16.10L426.80,513.30 M187.45,16.10L436.05,513.30 M196.70,16.10L445.30,513.30 M205.95,16.10L454.55,513.30 M215.20,16.10L463.80,513.30 M224.45,16.10L473.05,513.30 M233.70,16.10L482.30,513.30 M242.95,16.10L491.55,513.30 M252.20,16.10L500.80,513.30 M261.45,16.10L510.05,513.30 M270.70,16.10L519.30,513.30 M279.95,16.10L528.55,513.30 M289.20,16.10L537.80,513.30 M298.45,16.10L547.05,513.30 M307.70,16.10L556.30,513.30 M316.95,16.10L565.55,513.30 M326.20,16.10L574.80,513.30 M335.45,16.10L584.05,513.30 M344.70,16.10L593.30,513.30 M353.95,16.10L602.55,513.30 M363.20,16.10L611.80,513.30 M372.45,16.10L621.05,513.30 M381.70,16.10L630.30,513.30 M390.95,16.10L639.55,513.30 M400.20,16.10L648.80,513.30 M409.45,16.10L658.05,513.30 M418.70,16.10L667.30,513.30 M427.95,16.10L676.55,513.30 M437.20,16.10L685.80,513.30 M446.45,16.10L695.05,513.30 M455.70,16.10L704.30,513.30 M464.95,16.10L713.55,513.30 M474.20,16.10L722.80,513.30 M483.45,16.10L732.05,513.30 M492.70,16.10L741.30,513.30 M501.95,16.10L750.55,513.30 M511.20,16.10L759.80,513.30 M520.45,16.10L769.05,513.30 M529.70,16.10L778.30,513.30 M538.95,16.10L787.55,513.30 M548.20,16.10L796.80,513.30 M557.45,16.10L806.05,513.30 M566.70,16.10L815.30,513.30 M575.95,16.10L824.55,513.30 M585.20,16.10L833.80,513.30 M594.45,16.10L843.05,513.30 M603.70,16.10L852.30,513.30 M612.95,16.10L861.55,513.30 M622.20,16.10L870.80,513.30 M631.45,16.10L880.05,513.30 M640.70,16.10L889.30,513.30 M649.95,16.10L898.55,513.30 M659.20,16.10L907.80,513.30 M668.45,16.10L917.05,513.30 M677.70,16.10L926.30,513.30 M686.95,16.10L935.55,513.30 M696.20,16.10L944.80,513.30 M705.45,16.10L954.05,513.30 M714.70,16.10L963.30,513.30 M723.95,16.10L972.55,513.30 M733.20,16.10L981.80,513.30 M742.45,16.10L991.05,513.30 M751.70,16.10L1000.30,513.30 M760.95,16.10L1009.55,513.30"/>
<path stroke="#b8860b" stroke-width="3.50" stroke-linejoin="round" d="M53.00,513.30 L54.19,511.75 L55.40,510.13 L56.62,508.53 L57.85,506.94 L59.10,505.36 L60.36,503.80 L61.63,502.25 L62.92,500.71 L64.22,499.19 L65.53,497.68 L66.85,496.18 L68.19,494.69 L69.53,493.22 L70.89,491.76 L72.26,490.30 L73.64,488.87 L75.03,487.44 L76.44,486.02 L77.85,484.62 L79.27,483.22 L80.71,481.84 L82.15,480.47 L83.60,479.10 L85.07,477.75 L86.54,476.41 L88.02,475.08 L89.51,473.76 L91.01,472.45 L92.52,471.15 L94.04,469.85 L95.57,468.57 L97.10,467.30 L98.64,466.03 L100.19,464.78 L101.75,463.53 L103.31,462.29 L104.89,461.06 L106.46,459.84 L108.05,458.63 L109.64,457.42 L111.24,456.23 L112.85,455.04 L114.46,453.86 L116.07,452.68 L117.70,451.51 L119.33,450.35 L120.96,449.20 L122.60,448.05 L124.24,446.91 L125.89,445.78 L127.54,444.65 L129.20,443.53 L130.86,442.42 L132.53,441.31 L134.19,440.21 L135.87,439.11 L137.54,438.02 L139.22,436.93 L140.90,435.85 L142.59,434.77 L144.28,433.70 L145.97,432.63 L147.66,431.57 L149.36,430.51 L151.05,429.46 L152.76,428.41 L154.46,427.37 L156.17,426.33 L157.87,425.29 L159.59,424.27 L161.30,423.24 L163.02,422.22 L164.74,421.20 L166.46,420.19 L168.18,419.18 L169.91,418.18 L171.63,417.18 L173.37,416.19 L175.10,415.20 L176.83,414.21 L178.57,413.23 L180.31,412.25 L182.05,411.28 L183.80,410.31 L185.54,409.34 L187.29,408.38 L189.04,407.42 L190.80,406.46 L192.55,405.51 L194.31,404.57 L196.07,403.62 L197.83,402.68 L199.59,401.75 L201.36,400.82 L203.12,399.89 L204.89,398.96 L206.66,398.04 L208.43,397.12 L210.21,396.21 L211.98,395.29 L213.76,394.39 L215.54,393.48 L217.32,392.58 L219.11,391.68 L220.89,390.78 L222.68,389.89 L224.46,389.00 L226.25,388.12 L228.04,387.23 L229.84,386.35 L231.63,385.48 L233.43,384.60 L235.22,383.73 L237.02,382.86 L238.82,381.99 L240.62,381.13 L242.42,380.27 L244.23,379.41 L246.03,378.56 L247.84,377.70 L249.65,376.85 L251.46,376.01 L253.27,375.16 L255.08,374.32 L256.89,373.48 L258.70,372.64 L260.52,371.80 L262.33,370.97 L264.15,370.14 L265.97,369.31 L267.79,368.48 L269.61,367.65 L271.43,366.83 L273.25,366.01 L275.07,365.19 L276.90,364.37 L278.72,363.56 L280.55,362.74 L282.37,361.93 L284.20,361.12 L286.03,360.31 L287.86,359.51 L289.69,358.70 L291.52,357.90 L293.35,357.10 L295.18,356.30 L297.01,355.50 L298.84,354.70 L300.67,353.90 L302.51,353.11 L304.34,352.32 L306.18,351.52 L308.01,350.73 L309.85,349.94 L311.68,349.16 L313.52,348.37 L315.36,347.58 L317.19,346.80 L319.03,346.02 L320.87,345.24 L322.71,344.46 L324.55,343.68 L326.39,342.90 L328.23,342.13 L330.07,341.35 L331.91,340.58 L333.76,339.80 L335.60,339.03 L337.44,338.26 L339.29,337.50 L341.13,336.73 L342.98,335.96 L344.82,335.20 L346.67,334.43 L348.51,333.67 L350.36,332.91 L352.21,332.15 L354.05,331.39 L355.90,330.63 L357.75,329.88 L359.60,329.12 L361.45,328.37 L363.30,327.61 L365.15,326.86 L367.00,326.11 L368.85,325.36 L370.70,324.61 L372.56,323.87 L374.41,323.12 L376.26,322.38 L378.11,321.63 L379.97,320.89 L381.82,320.15 L383.68,319.41 L385.53,318.67 L387.39,317.93 L389.24,317.19 L391.10,316.45 L392.96,315.72 L394.81,314.98 L396.67,314.25 L398.53,313.52 L400.39,312.79 L402.25,312.06 L404.11,311.33 L405.97,310.60 L407.83,309.87 L409.69,309.14 L411.55,308.42 L413.41,307.69 L415.27,306.97 L417.13,306.25 L418.99,305.53 L420.86,304.81 L422.72,304.09 L424.58,303.37 L426.45,302.65 L428.31,301.93 L430.17,301.22 L432.04,300.50 L433.90,299.79 L435.77,299.08 L437.64,298.36 L439.50,297.65 L441.37,296.94 L443.23,296.23 L445.10,295.52 L446.97,294.81 L448.84,294.11 L450.70,293.40 L452.57,292.70 L454.44,291.99 L456.31,291.29 L458.18,290.58 L460.05,289.88 L461.92,289.18 L463.79,288.48 L465.66,287.78 L467.53,287.08 L469.40,286.38 L471.27,285.68 L473.15,284.99 L475.02,284.29 L476.89,283.60 L478.76,282.90 L480.64,282.21 L482.51,281.51 L484.38,280.82 L486.26,280.13 L488.13,279.44 L490.00,278.75 L491.88,278.06 L493.75,277.37 L495.63,276.68 L497.50,275.99 L499.38,275.31 L501.25,274.62 L503.13,273.94 L505.01,273.25 L506.88,272.57 L508.76,271.88 L510.64,271.20 L512.51,270.52 L514.39,269.84 L516.27,269.15 L518.15,268.47 L520.03,267.79 L521.90,267.11 L523.78,266.44 L525.66,265.76 L527.54,265.08 L529.42,264.40 L531.30,263.73 L533.18,263.05 L535.06,262.37 L536.94,261.70 L538.82,261.02 L540.70,260.35 L542.58,259.67 L544.46,259.00 L546.34,258.32 L548.22,257.65 L550.10,256.97 L551.98,256.30 L553.86,255.62 L555.73,254.94 L557.61,254.27 L559.49,253.59 L561.37,252.91 L563.25,252.23 L565.13,251.55 L567.00,250.87 L568.88,250.19 L570.76,249.51 L572.63,248.82 L574.51,248.14 L576.38,247.45 L578.26,246.76 L580.13,246.07 L582.01,245.38 L583.88,244.68 L585.75,243.99 L587.62,243.29 L589.49,242.59 L591.36,241.89 L593.23,241.19 L595.10,240.48 L596.97,239.78 L598.83,239.07 L600.70,238.35 L602.56,237.64 L604.43,236.92 L606.29,236.20 L608.15,235.48 L610.01,234.75 L611.87,234.03 L613.73,233.29 L615.58,232.56 L617.44,231.82 L619.29,231.08 L621.14,230.34 L623.00,229.59 L624.85,228.84 L626.70,228.08 L628.54,227.33 L630.39,226.56 L632.23,225.80 L634.08,225.03 L635.92,224.26 L637.76,223.48 L639.60,222.70 L641.43,221.91 L643.27,221.12 L645.10,220.33 L646.93,219.53 L648.76,218.72 L650.59,217.92 L652.42,217.10 L654.24,216.28 L656.06,215.46 L657.88,214.63 L659.70,213.80 L661.51,212.96 L663.33,212.12 L665.13,211.27 L666.94,210.41 L668.74,209.55 L670.54,208.68 L672.34,207.80 L674.13,206.92 L675.92,206.03 L677.71,205.13 L679.49,204.22 L681.26,203.31 L683.04,202.39 L684.80,201.46 L686.57,200.53 L688.33,199.58 L690.08,198.63 L691.83,197.67 L693.57,196.70 L695.31,195.72 L697.04,194.73 L698.77,193.73 L700.49,192.73 L702.21,191.71 L703.92,190.68 L705.62,189.64 L707.31,188.59 L708.98,187.51 L710.64,186.41 L712.28,185.29 L713.90,184.14 L715.50,182.96 L717.06,181.75 L718.60,180.50 L720.10,179.20 L721.58,177.87 L723.01,176.49 L724.40,175.06 L725.76,173.59 L727.07,172.08 L728.35,170.52 L729.58,168.93 L730.78,167.31 L731.93,165.65 L733.05,163.96 L734.12,162.25 L735.15,160.51 L736.14,158.75 L737.09,156.98 L738.00,155.18 L738.87,153.38 L739.69,151.56 L740.47,149.73 L741.22,147.90 L741.91,146.06 L742.57,144.22 L743.10,142.30"/>
</g>
<g fill="none">
<path clip-path="url(#k0)" stroke="#ff0000" stroke-width="2.1" d="M213.40,35.90L226.20,48.70 M226.50,35.90L239.30,48.70 M239.60,35.90L252.40,48.70 M252.70,35.90L265.50,48.70 M265.80,35.90L278.60,48.70 M278.90,35.90L291.70,48.70 M292.00,35.90L304.80,48.70 M305.10,35.90L317.90,48.70 M318.20,35.90L331.00,48.70 M331.30,35.90L344.10,48.70"/>
<rect x="247.90" y="35.90" width="68.20" height="12.80" stroke="#ff0000" stroke-width="3.6"/>
<path clip-path="url(#k1)" stroke="#0000ff" stroke-width="2.1" d="M226.50,74.00L213.70,86.80 M239.60,74.00L226.80,86.80 M252.70,74.00L239.90,86.80 M265.80,74.00L253.00,86.80 M278.90,74.00L266.10,86.80 M292.00,74.00L279.20,86.80 M305.10,74.00L292.30,86.80 M318.20,74.00L305.40,86.80 M331.30,74.00L318.50,86.80 M344.40,74.00L331.60,86.80"/>
<rect x="247.90" y="74.00" width="68.20" height="12.80" stroke="#0000ff" stroke-width="3.6"/>
<path clip-path="url(#k2)" stroke="#b8860b" stroke-width="1.85" d="M234.99,112.00L241.39,124.80 M240.32,112.00L246.72,124.80 M245.65,112.00L252.05,124.80 M250.98,112.00L257.38,124.80 M256.31,112.00L262.71,124.80 M261.64,112.00L268.04,124.80 M266.97,112.00L273.37,124.80 M272.30,112.00L278.70,124.80 M277.63,112.00L284.03,124.80 M282.96,112.00L289.36,124.80 M288.29,112.00L294.69,124.80 M293.62,112.00L300.02,124.80 M298.95,112.00L305.35,124.80 M304.28,112.00L310.68,124.80 M309.61,112.00L316.01,124.80 M314.94,112.00L321.34,124.80 M320.27,112.00L326.67,124.80 M325.60,112.00L332.00,124.80"/>
<rect x="247.90" y="112.00" width="68.20" height="12.80" stroke="#b8860b" stroke-width="3.6"/>
</g>
<g stroke="#000" fill="none" stroke-linecap="butt">
<path d="M39.75,16.20H743.80" stroke-width="1.45"/>
<path d="M39.75,513.30H743.80" stroke-width="1.4"/>
<path d="M40.35,15.50V514.00" stroke-width="1.3"/>
<path d="M742.90,15.50V514.00" stroke-width="1.6"/>
</g>
<rect x="102" y="223.5" width="246.5" height="55" fill="#fff"/>
<g stroke="#000" fill="none" stroke-linecap="square"><path d="M102.0,223.5V278.5" stroke-width="0.65"/><path d="M102.0,223.5H348.5" stroke-width="0.55"/><path d="M348.5,223.5V278.5" stroke-width="0.62"/><path d="M102.0,278.5H348.5" stroke-width="0.62"/></g>
<g opacity="0.999"><g font-family="'Liberation Sans', sans-serif" font-weight="bold" fill="#000" text-rendering="geometricPrecision" style="font-kerning:none">
<text x="32.03" y="539.00" font-size="30.10">5</text>
<path transform="translate(86.02,539.00) scale(0.02880)" d="M378,0L378,-710L290,-710C274,-655 200,-612 69,-608L69,-506L234,-506L234,0Z"/><text x="101.67" y="539.00" font-size="30.10">0</text>
<text x="208.92" y="539.00" font-size="30.10">2</text><text x="224.93" y="539.00" font-size="30.10">0</text>
<text x="332.18" y="539.00" font-size="30.10">3</text><text x="348.20" y="539.00" font-size="30.10">0</text>
<text x="455.45" y="539.00" font-size="30.10">4</text><text x="471.46" y="539.00" font-size="30.10">0</text>
<text x="578.71" y="539.00" font-size="30.10">5</text><text x="594.72" y="539.00" font-size="30.10">0</text>
<text x="701.97" y="539.00" font-size="30.10">6</text><text x="717.99" y="539.00" font-size="30.10">0</text>
<text x="752.14" y="522.60" font-size="30.10">2</text><text x="768.15" y="522.60" font-size="30.10">0</text><text x="784.17" y="522.60" font-size="30.10">0</text>
<text x="752.14" y="467.36" font-size="30.10">3</text><text x="768.15" y="467.36" font-size="30.10">0</text><text x="784.17" y="467.36" font-size="30.10">0</text>
<text x="752.14" y="412.11" font-size="30.10">4</text><text x="768.15" y="412.11" font-size="30.10">0</text><text x="784.17" y="412.11" font-size="30.10">0</text>
<text x="752.14" y="356.87" font-size="30.10">5</text><text x="768.15" y="356.87" font-size="30.10">0</text><text x="784.17" y="356.87" font-size="30.10">0</text>
<text x="752.14" y="301.62" font-size="30.10">6</text><text x="768.15" y="301.62" font-size="30.10">0</text><text x="784.17" y="301.62" font-size="30.10">0</text>
<text x="752.14" y="246.38" font-size="30.10">7</text><text x="768.15" y="246.38" font-size="30.10">0</text><text x="784.17" y="246.38" font-size="30.10">0</text>
<text x="752.14" y="191.13" font-size="30.10">8</text><text x="768.15" y="191.13" font-size="30.10">0</text><text x="784.17" y="191.13" font-size="30.10">0</text>
<text x="752.14" y="135.89" font-size="30.10">9</text><text x="768.15" y="135.89" font-size="30.10">0</text><text x="784.17" y="135.89" font-size="30.10">0</text>
<path transform="translate(752.50,80.64) scale(0.02880)" d="M378,0L378,-710L290,-710C274,-655 200,-612 69,-608L69,-506L234,-506L234,0Z"/><text x="768.15" y="80.64" font-size="30.10">0</text><text x="784.17" y="80.64" font-size="30.10">0</text><text x="800.18" y="80.64" font-size="30.10">0</text>
<path transform="translate(752.50,25.40) scale(0.02880)" d="M378,0L378,-710L290,-710C274,-655 200,-612 69,-608L69,-506L234,-506L234,0Z"/><path transform="translate(768.51,25.40) scale(0.02880)" d="M378,0L378,-710L290,-710C274,-655 200,-612 69,-608L69,-506L234,-506L234,0Z"/><text x="784.17" y="25.40" font-size="30.10">0</text><text x="800.18" y="25.40" font-size="30.10">0</text>
<text x="56.90" y="48.55" font-size="25.36">m</text><text x="79.12" y="56.16" font-size="21.18">A</text><text x="93.89" y="46.01" font-size="16.96">0</text><path transform="translate(110.17,48.55) scale(0.02536)" d="M40,-87H544V-200H40ZM40,-306H544V-419H40Z"/><text x="131.71" y="48.55" font-size="26.50">2</text><text x="145.81" y="48.55" font-size="26.50">0</text><text x="159.91" y="48.55" font-size="26.50">0</text><text x="180.94" y="48.55" font-size="26.48">G</text><text x="201.11" y="48.55" font-size="25.36">e</text><text x="214.84" y="48.55" font-size="26.48">V</text>
<text x="56.90" y="86.65" font-size="25.36">m</text><text x="79.12" y="94.26" font-size="21.18">A</text><text x="93.89" y="84.11" font-size="16.96">0</text><path transform="translate(110.17,86.65) scale(0.02536)" d="M40,-87H544V-200H40ZM40,-306H544V-419H40Z"/><text x="131.71" y="86.65" font-size="26.50">4</text><text x="145.81" y="86.65" font-size="26.50">0</text><text x="159.91" y="86.65" font-size="26.50">0</text><text x="180.94" y="86.65" font-size="26.48">G</text><text x="201.11" y="86.65" font-size="25.36">e</text><text x="214.84" y="86.65" font-size="26.48">V</text>
<text x="56.90" y="124.75" font-size="25.36">m</text><text x="79.12" y="132.36" font-size="21.18">A</text><text x="93.89" y="122.21" font-size="16.96">0</text><path transform="translate(110.17,124.75) scale(0.02536)" d="M40,-87H544V-200H40ZM40,-306H544V-419H40Z"/><text x="131.71" y="124.75" font-size="26.50">6</text><text x="145.81" y="124.75" font-size="26.50">0</text><text x="159.91" y="124.75" font-size="26.50">0</text><text x="180.94" y="124.75" font-size="26.48">G</text><text x="201.11" y="124.75" font-size="25.36">e</text><text x="214.84" y="124.75" font-size="26.48">V</text>
<text x="121.10" y="260.20" font-size="28.80">m</text><path transform="translate(146.70,268.84) scale(0.02304)" d="M378,0L378,-710L290,-710C274,-655 200,-612 69,-608L69,-506L234,-506L234,0Z"/><text x="159.23" y="268.84" font-size="24.08">2</text><text x="172.04" y="245.80" font-size="24.08">2</text><path transform="translate(193.14,260.20) scale(0.02880)" d="M40,-87H544V-200H40ZM40,-306H544V-419H40Z"/><text x="217.61" y="260.20" font-size="30.10">3</text><text x="233.62" y="260.20" font-size="30.10">0</text><text x="257.50" y="260.20" font-size="30.07">G</text><text x="280.40" y="260.20" font-size="28.80">e</text><text x="295.99" y="260.20" font-size="30.07">V</text><text x="315.34" y="245.80" font-size="24.08">2</text>
<text x="300.70" y="561.80" font-size="34.58">m</text><text x="331.04" y="572.17" font-size="28.88">S</text><text x="349.62" y="558.34" font-size="23.13">0</text><text x="371.81" y="561.80" font-size="34.58">i</text><text x="381.42" y="561.80" font-size="34.58">n</text><text x="411.57" y="561.80" font-size="36.10">G</text><text x="439.07" y="561.80" font-size="34.58">e</text><text x="457.79" y="561.80" font-size="36.10">V</text>
<g transform="translate(21,332.4) rotate(-90)"><text x="0.00" y="0.00" font-size="25.36">m</text><text x="22.22" y="7.61" font-size="21.18">H</text><text x="36.99" y="-2.54" font-size="16.96">0</text><text x="53.27" y="0.00" font-size="25.36">i</text><text x="60.32" y="0.00" font-size="25.36">n</text><text x="82.43" y="0.00" font-size="26.48">G</text><text x="102.59" y="0.00" font-size="25.36">e</text><text x="116.32" y="0.00" font-size="26.48">V</text></g>
</g></g>
</svg>
</body></html>
